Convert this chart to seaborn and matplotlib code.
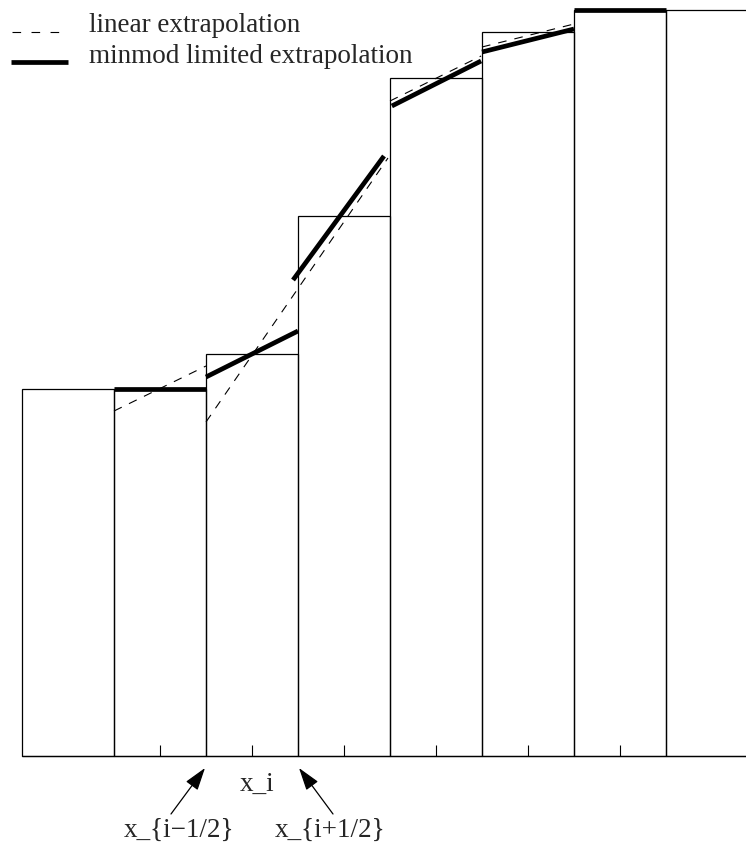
import matplotlib
matplotlib.use("Agg")
import matplotlib.pyplot as plt
from matplotlib.lines import Line2D
from matplotlib.patches import FancyArrowPatch
import numpy as np
import pandas as pd
import seaborn as sns

# ---------------- data ----------------
cell_index = [0, 1, 2, 3, 4, 5, 6, 7]
cell_avg = [3.67, 3.67, 4.02, 5.40, 6.78, 7.24, 7.465, 7.465]
tick_cells = [1, 2, 3, 4, 5, 6]

# linear extrapolation (dashed) segments
lin_seg = ["a", "a", "b", "b", "c", "c", "d", "d"]
lin_x = [0.5, 1.5, 1.5, 3.478, 3.5, 4.49, 4.5, 5.5]
lin_y = [3.45, 3.90, 3.34, 5.98, 6.55, 7.00, 7.09, 7.32]

# minmod limited extrapolation (thick) segments
mm_seg = ["a", "a", "b", "b", "c", "c", "d", "d", "e", "e", "f", "f"]
mm_x = [0.5, 1.5, 1.5, 2.5, 2.446, 3.435, 3.52, 4.49, 4.5, 5.5, 5.5, 6.5]
mm_y = [3.67, 3.67, 3.79, 4.25, 4.76, 6.00, 6.50, 6.95, 7.04, 7.27, 7.465, 7.465]

legend_labels = ["linear extrapolation", "minmod limited extrapolation"]
label_center = "x_i"
label_left = "x_{i\u22121/2}"
label_right = "x_{i+1/2}"

# ---------------- style ----------------
sns.set_style("white")
plt.rcParams["font.family"] = ["Liberation Serif", "DejaVu Serif"]
plt.rcParams["lines.scale_dashes"] = False

W, H = 746, 844
fig = plt.figure(figsize=(W / 100, H / 100), dpi=100)
ax = fig.add_axes([0, 0, 1, 1])

def fpx(x, y):
    return (x / W, 1 - y / H)

bars_df = pd.DataFrame({"cell": cell_index, "avg": cell_avg})
sns.barplot(data=bars_df, x="cell", y="avg", native_scale=True, width=1.0,
            fill=False, color="black", linewidth=0.9, errorbar=None, ax=ax)

lin_df = pd.DataFrame({"x": lin_x, "y": lin_y, "seg": lin_seg})
sns.lineplot(data=lin_df, x="x", y="y", units="seg", estimator=None, sort=False,
             color="black", linewidth=0.8, linestyle=(0, (6.2, 5.8)), ax=ax)

mm_df = pd.DataFrame({"x": mm_x, "y": mm_y, "seg": mm_seg})
sns.lineplot(data=mm_df, x="x", y="y", units="seg", estimator=None, sort=False,
             color="black", linewidth=3.4, solid_capstyle="butt", ax=ax)

# baseline and cell-centre ticks
ax.axhline(0, xmin=(22 / W), xmax=1, color="black", linewidth=0.9)
ax.vlines(tick_cells, 0, 0.11, color="black", linewidth=0.8)

ax.set_xlim(-68 / 92, (W - 68) / 92)
ax.set_ylim((756 - H) / 100, 756 / 100)
ax.set_axis_off()

# legend
fs = 19.5
fig.add_artist(Line2D([fpx(12, 32)[0], fpx(68, 32)[0]], [fpx(12, 32)[1]] * 2,
                      transform=fig.transFigure, color="black", linewidth=0.8,
                      linestyle=(0, (6.2, 7.5))))
fig.add_artist(Line2D([fpx(11, 62)[0], fpx(68, 62)[0]], [fpx(11, 62)[1]] * 2,
                      transform=fig.transFigure, color="black", linewidth=3.4,
                      solid_capstyle="butt"))
fig.text(*fpx(89, 32), legend_labels[0], fontsize=fs, va="baseline", ha="left")
fig.text(*fpx(89, 63), legend_labels[1], fontsize=fs, va="baseline", ha="left")

# annotations below the axis
fig.text(*fpx(257, 791), label_center, fontsize=fs, va="baseline", ha="center")
fig.text(*fpx(179, 837), label_left, fontsize=fs, va="baseline", ha="center")
fig.text(*fpx(330, 837), label_right, fontsize=fs, va="baseline", ha="center")

for tail, tip in [((171, 814), (205, 768)), ((333, 814), (299, 768))]:
    fig.add_artist(FancyArrowPatch(fpx(*tail), fpx(*tip), transform=fig.transFigure,
                                   arrowstyle="-|>,head_length=1.4,head_width=0.45",
                                   mutation_scale=10, color="black", linewidth=0.9,
                                   shrinkA=0, shrinkB=0))

fig.savefig("out.png", dpi=100)
